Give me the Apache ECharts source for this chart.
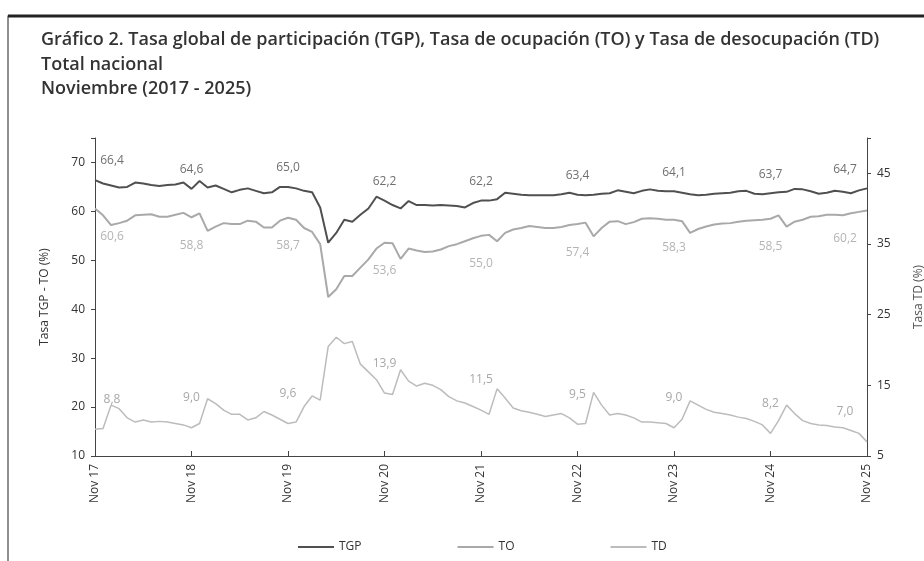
<!DOCTYPE html>
<html>
<head>
<meta charset="utf-8">
<script src="https://cdn.jsdelivr.net/npm/echarts@6/dist/echarts.min.js"></script>
<style>
  html, body { margin: 0; padding: 0; background: #fff; }
  #chart { width: 924px; height: 561px; }
</style>
</head>
<body>
<div id="chart"></div>
<script>
// meses, nov 2017 - nov 2025
const monthNames = ['Ene', 'Feb', 'Mar', 'Abr', 'May', 'Jun', 'Jul', 'Ago', 'Sep', 'Oct', 'Nov', 'Dic'];
const startYear = 17;
const startMonth = 10; // noviembre

const tgp = [
  66.4, 65.7, 65.3, 64.9, 65.0, 65.9, 65.7, 65.4, 65.2, 65.4, 65.5, 65.9,
  64.6, 66.2, 64.9, 65.3, 64.6, 63.9, 64.4, 64.7, 64.2, 63.7, 63.9, 65.0,
  65.0, 64.7, 64.2, 63.9, 60.8, 53.6, 55.6, 58.3, 57.9, 59.3, 60.6, 63.0,
  62.2, 61.3, 60.6, 62.1, 61.3, 61.3, 61.2, 61.3, 61.2, 61.1, 60.8, 61.7,
  62.2, 62.2, 62.5, 63.8, 63.6, 63.4, 63.3, 63.3, 63.3, 63.3, 63.5, 63.8,
  63.4, 63.3, 63.4, 63.6, 63.7, 64.3, 64.0, 63.7, 64.2, 64.5, 64.2, 64.1,
  64.1, 63.8, 63.5, 63.3, 63.4, 63.6, 63.7, 63.8, 64.1, 64.2, 63.6, 63.5,
  63.7, 63.9, 64.0, 64.6, 64.5, 64.1, 63.6, 63.8, 64.2, 64.0, 63.7, 64.3,
  64.7
];

const to = [
  60.6, 59.2, 57.2, 57.6, 58.1, 59.2, 59.3, 59.4, 58.9, 58.9, 59.3, 59.7,
  58.8, 59.6, 56.0, 56.9, 57.6, 57.4, 57.4, 58.1, 57.9, 56.7, 56.7, 58.1,
  58.7, 58.3, 56.6, 55.8, 53.3, 42.5, 44.1, 46.8, 46.8, 48.5, 50.2, 52.4,
  53.6, 53.5, 50.3, 52.4, 52.0, 51.7, 51.8, 52.2, 52.9, 53.3, 53.9, 54.5,
  55.0, 55.2, 53.9, 55.6, 56.3, 56.6, 57.0, 56.8, 56.6, 56.6, 56.8, 57.2,
  57.4, 57.7, 54.9, 56.6, 57.9, 58.0, 57.4, 57.8, 58.5, 58.6, 58.5, 58.3,
  58.3, 58.0, 55.6, 56.4, 56.9, 57.3, 57.5, 57.6, 57.9, 58.1, 58.2, 58.3,
  58.5, 59.2, 56.9, 57.9, 58.3, 58.9, 59.0, 59.3, 59.3, 59.2, 59.6, 59.9,
  60.2
];

const td = [
  8.8, 8.9, 12.2, 11.7, 10.4, 9.8, 10.1, 9.8, 9.9, 9.8, 9.6, 9.4,
  9.0, 9.6, 13.1, 12.4, 11.5, 10.9, 10.9, 10.1, 10.4, 11.3, 10.8, 10.2,
  9.6, 9.8, 12.0, 13.5, 12.9, 20.5, 21.8, 20.9, 21.2, 18.0, 16.9, 15.8,
  13.9, 13.7, 17.2, 15.6, 14.9, 15.3, 15.0, 14.4, 13.4, 12.8, 12.5, 12.0,
  11.5, 10.9, 14.5, 13.2, 11.8, 11.4, 11.2, 10.9, 10.6, 10.8, 11.0, 10.4,
  9.5, 9.6, 14.0, 12.2, 10.8, 11.0, 10.8, 10.4, 9.8, 9.8, 9.7, 9.6,
  9.0, 10.2, 12.8, 12.2, 11.6, 11.2, 11.0, 10.8, 10.5, 10.3, 9.9, 9.4,
  8.2, 10.0, 12.2, 11.0, 10.0, 9.6, 9.4, 9.3, 9.1, 9.0, 8.6, 8.2,
  7.0
];

const leftTicks = [10, 20, 30, 40, 50, 60, 70];
const rightTicks = [5, 15, 25, 35, 45];

let categories = [];
for (let i = 0; i < tgp.length; i++) {
  let m = (startMonth + i) % 12;
  let y = startYear + Math.floor((startMonth + i) / 12);
  categories.push(monthNames[m] + ' ' + y);
}

const fmt = v => v.toFixed(1).replace('.', ',');

// etiquetas solo en noviembre de cada año
function labeled(values, pos, dist, color) {
  return values.map((v, i) => {
    if (i % 12 !== 0) return v;
    let offset = [0, 0];
    if (i === 0) offset = [17, 0];
    if (i === values.length - 1) offset = [-22, 0];
    return {
      value: v,
      label: {
        show: true, position: pos, distance: dist, offset: offset,
        color: color, fontSize: 12, fontFamily: 'Open Sans',
        formatter: p => fmt(p.value)
      }
    };
  });
}

const chart = echarts.init(document.getElementById('chart'));

let option = {
  animation: false,
  title: {
    text: 'Gráfico 2. Tasa global de participación (TGP), Tasa de ocupación (TO) y Tasa de desocupación (TD)\nTotal nacional\nNoviembre (2017 - 2025)',
    left: 36,
    top: 23,
    textStyle: {
      fontFamily: 'Open Sans', fontSize: 18, fontWeight: 600,
      color: '#333', lineHeight: 24.5
    }
  },
  graphic: [
    // marco del recuadro (el borde derecho queda fuera de la imagen)
    { type: 'rect', shape: { x: 8, y: 16, width: 930, height: 560 },
      style: { fill: 'none', stroke: '#444', lineWidth: 1.2 }, silent: true },
    { type: 'line', shape: { x1: 8, y1: 16, x2: 924, y2: 16 },
      style: { stroke: '#222', lineWidth: 3 }, silent: true }
  ],
  legend: {
    bottom: 3,
    left: 293,
    itemGap: 96,
    itemWidth: 36,
    itemHeight: 2,
    icon: 'rect',
    textStyle: { fontFamily: 'Open Sans', fontSize: 12, color: '#333' },
    data: ['TGP', 'TO', 'TD']
  },
  grid: { left: 95, right: 57, top: 138, bottom: 105, outerBoundsMode: 'none' },
  xAxis: {
    type: 'category',
    boundaryGap: false,
    data: categories,
    axisLine: { lineStyle: { color: '#444', width: 1 } },
    axisTick: { interval: 11, inside: true, length: 5, lineStyle: { color: '#444' } },
    axisLabel: {
      interval: 11, rotate: 90, margin: 8,
      fontFamily: 'Open Sans', fontSize: 12, color: '#333'
    },
    splitLine: { show: false }
  },
  yAxis: [
    {
      type: 'value', min: 10, max: 75, interval: 10,
      name: 'Tasa TGP - TO (%)', nameLocation: 'middle', nameGap: 44, nameRotate: 90,
      nameTextStyle: { fontFamily: 'Open Sans', fontSize: 12, color: '#333' },
      axisLine: { show: true, lineStyle: { color: '#444' } },
      axisTick: { show: true, length: 4, lineStyle: { color: '#444' } },
      axisLabel: {
        fontFamily: 'Open Sans', fontSize: 12, color: '#333', margin: 10,
        formatter: v => leftTicks.indexOf(v) >= 0 ? v : ''
      },
      splitLine: { show: false }
    },
    {
      type: 'value', min: 5, max: 50, interval: 10,
      name: 'Tasa TD (%)', nameLocation: 'middle', nameGap: 46, nameRotate: 90,
      nameTextStyle: { fontFamily: 'Open Sans', fontSize: 12, color: '#555' },
      axisLine: { show: true, lineStyle: { color: '#444' } },
      axisTick: { show: true, length: 4, lineStyle: { color: '#444' } },
      axisLabel: {
        fontFamily: 'Open Sans', fontSize: 12, color: '#333', margin: 10,
        formatter: v => rightTicks.indexOf(v) >= 0 ? v : ''
      },
      splitLine: { show: false }
    }
  ],
  series: [
    {
      name: 'TGP', type: 'line', yAxisIndex: 0,
      symbol: 'circle', symbolSize: 0, showAllSymbol: true,
      lineStyle: { color: '#505050', width: 2 },
      itemStyle: { color: '#505050' },
      data: labeled(tgp, 'top', 13, '#707070')
    },
    {
      name: 'TO', type: 'line', yAxisIndex: 0,
      symbol: 'circle', symbolSize: 0, showAllSymbol: true,
      lineStyle: { color: '#a9a9a9', width: 2 },
      itemStyle: { color: '#a9a9a9' },
      data: labeled(to, 'bottom', 22, '#b4b4b4')
    },
    {
      name: 'TD', type: 'line', yAxisIndex: 1,
      symbol: 'circle', symbolSize: 0, showAllSymbol: true,
      lineStyle: { color: '#bcbcbc', width: 1.5 },
      itemStyle: { color: '#bcbcbc' },
      data: labeled(td, 'top', 24, '#a8a8a8')
    }
  ]
};

chart.setOption(option);
</script>
</body>
</html>
